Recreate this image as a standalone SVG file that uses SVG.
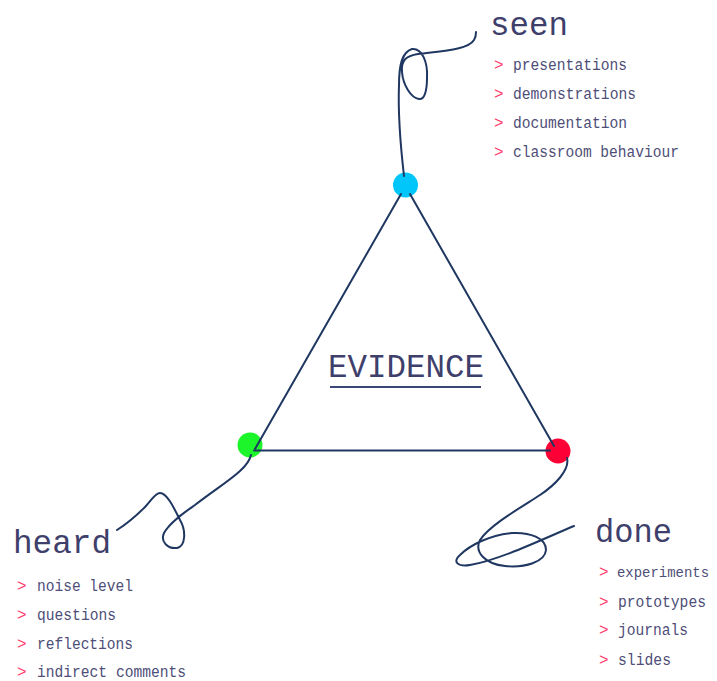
<svg xmlns="http://www.w3.org/2000/svg" width="717" height="681" viewBox="0 0 717 681">
<style>
.t{font-family:"Liberation Mono","Courier New",monospace;fill:#3f3f6c}
.big{font-size:34px}
.li{font-size:16px;fill:#4e4e78}
.b{font-family:"Liberation Mono","Courier New",monospace;font-size:16px;fill:#ff3b6b}
.ln{fill:none;stroke:#1f3761;stroke-width:2;stroke-linecap:round}
</style>
<rect width="717" height="681" fill="#ffffff"/>
<g id="node-seen-dot"><circle cx="405.5" cy="185" r="12.5" fill="#00c6fa"/></g>
<g id="node-heard-dot"><circle cx="250" cy="445" r="12.5" fill="#1cf52a"/></g>
<g id="node-done-dot"><circle cx="558" cy="451" r="12.5" fill="#fd0035"/></g>
<g id="connectors">
<line class="ln" x1="401" y1="194" x2="255" y2="449"/>
<line class="ln" x1="410" y1="194" x2="554" y2="446"/>
<line class="ln" x1="254" y1="450.5" x2="550" y2="450.5"/>
<path class="ln" d="M404,176 C401,150 398,110 399,85 C399,65 402,52 412,49 C422,48 428,62 427,78 C427,92 424,100 419,99 C411,98 403,85 402,72 C401,60 406,56 418,54 C440,51 468,50 474,40 C476,37 476,34 476,32"/>
<path class="ln" d="M251,455 C248,470 222,484 195,505 C185,512 170,522 164,533 C160,542 168,549 177,548 C186,546 186,530 180,520 C174,508 167,493 160,493 C155,493 150,502 145,507 C135,517 125,525 117,530"/>
<path class="ln" d="M567,458 C570,470 555,485 540,495 C520,508 490,525 480,540 C474,552 485,564 505,566 C525,568 545,562 546,550 C546,538 530,532 512,533 C490,535 470,545 460,555 C452,562 458,567 470,565 C500,560 545,538 574,526"/>
</g>
<g id="node-evidence">
<text class="t big" x="328" y="377" textLength="156" lengthAdjust="spacingAndGlyphs">EVIDENCE</text>
<line x1="330" y1="387" x2="481" y2="387" stroke="#3a4676" stroke-width="2"/>
</g>
<g id="node-seen">
<text class="t big" x="490" y="35" textLength="78" lengthAdjust="spacingAndGlyphs">seen</text>
<text class="b" x="494" y="70">&gt;</text>
<text class="t li" x="513" y="70" textLength="114" lengthAdjust="spacingAndGlyphs">presentations</text>
<text class="b" x="494" y="99">&gt;</text>
<text class="t li" x="513" y="99" textLength="123" lengthAdjust="spacingAndGlyphs">demonstrations</text>
<text class="b" x="494" y="128">&gt;</text>
<text class="t li" x="513" y="128" textLength="114" lengthAdjust="spacingAndGlyphs">documentation</text>
<text class="b" x="494" y="157">&gt;</text>
<text class="t li" x="513" y="157" textLength="166" lengthAdjust="spacingAndGlyphs">classroom behaviour</text>
</g>
<g id="node-heard">
<text class="t big" x="13" y="553" textLength="98" lengthAdjust="spacingAndGlyphs">heard</text>
<text class="b" x="17" y="591">&gt;</text>
<text class="t li" x="37" y="591" textLength="96" lengthAdjust="spacingAndGlyphs">noise level</text>
<text class="b" x="17" y="620">&gt;</text>
<text class="t li" x="37" y="620" textLength="79" lengthAdjust="spacingAndGlyphs">questions</text>
<text class="b" x="17" y="649">&gt;</text>
<text class="t li" x="37" y="649" textLength="96" lengthAdjust="spacingAndGlyphs">reflections</text>
<text class="b" x="17" y="677">&gt;</text>
<text class="t li" x="37" y="677" textLength="149" lengthAdjust="spacingAndGlyphs">indirect comments</text>
</g>
<g id="node-done">
<text class="t big" x="595" y="542" textLength="77" lengthAdjust="spacingAndGlyphs">done</text>
<text class="b" x="599" y="577">&gt;</text>
<text class="t li" x="617" y="577" font-size="14.5" style="font-size:14.5px" textLength="92" lengthAdjust="spacingAndGlyphs">experiments</text>
<text class="b" x="599" y="607">&gt;</text>
<text class="t li" x="618" y="607" textLength="88" lengthAdjust="spacingAndGlyphs">prototypes</text>
<text class="b" x="599" y="635">&gt;</text>
<text class="t li" x="618" y="635" textLength="70" lengthAdjust="spacingAndGlyphs">journals</text>
<text class="b" x="599" y="665">&gt;</text>
<text class="t li" x="618" y="665" textLength="53" lengthAdjust="spacingAndGlyphs">slides</text>
</g>
</svg>
